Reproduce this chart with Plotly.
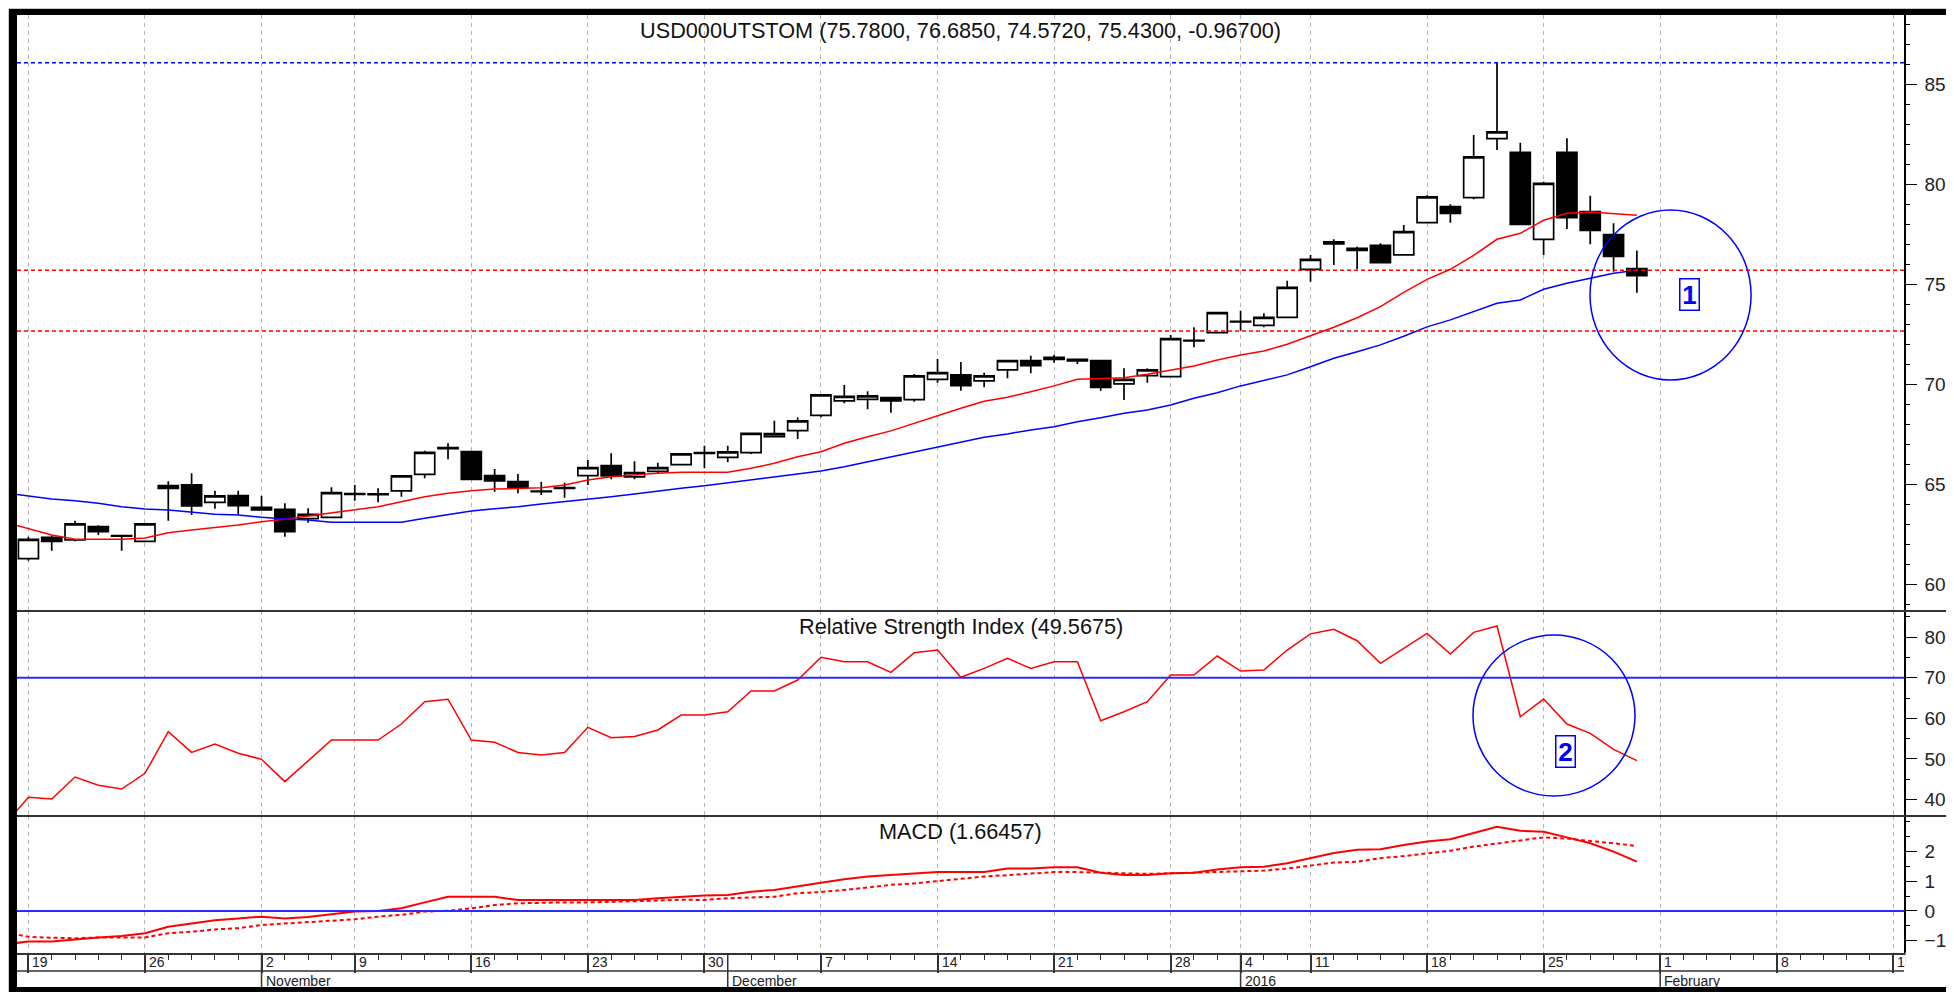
import plotly.graph_objects as go

# ---------------- data ----------------
# trading-day index: 0 = 19 Oct 2015 ... 69 = 29 Jan 2016 (exchange holidays skipped)
day_idx = list(range(70))
opens = [61.28, 62.35, 62.22, 62.88, 62.41, 62.15, 64.80, 64.97, 64.10, 64.43,
         63.85, 63.75, 63.28, 63.35, 64.49, 64.48, 64.67, 65.50, 66.84, 66.63,
         65.43, 65.13, 64.66, 64.80, 65.43, 65.93, 65.37, 65.65, 65.98, 66.54,
         66.35, 66.58, 67.38, 67.68, 68.45, 69.17, 69.25, 69.33, 69.23, 70.25,
         70.47, 70.17, 70.72, 71.18, 71.35, 71.25, 71.18, 70.02, 70.43, 70.38,
         72.17, 72.58, 73.12, 72.95, 73.35, 75.75, 77.12, 76.80, 76.95, 76.47,
         78.08, 78.88, 79.33, 82.28, 81.60, 77.25, 81.60, 78.63, 77.48, 75.78]
highs = [62.38, 62.43, 63.18, 62.95, 62.45, 63.05, 65.15, 65.55, 64.68, 64.68,
         64.43, 64.05, 63.80, 64.85, 64.97, 64.80, 65.45, 66.68, 67.05, 66.68,
         65.77, 65.52, 65.13, 65.08, 66.22, 66.55, 66.15, 66.08, 66.53, 66.93,
         66.93, 67.55, 68.18, 68.35, 69.47, 69.97, 69.65, 69.33, 70.52, 71.27,
         71.12, 70.58, 71.18, 71.43, 71.47, 71.25, 71.18, 70.80, 70.80, 72.47,
         72.85, 73.58, 73.68, 73.55, 75.18, 76.47, 77.25, 76.88, 77.05, 77.97,
         79.45, 79.00, 82.47, 86.08, 82.08, 80.13, 82.30, 79.43, 78.05, 76.685]
lows = [61.18, 61.68, 62.15, 62.47, 61.68, 62.13, 63.18, 63.47, 63.78, 63.50,
        63.70, 62.38, 63.08, 63.33, 64.18, 64.10, 64.38, 65.30, 66.25, 65.23,
        64.63, 64.55, 64.47, 64.33, 64.97, 65.25, 65.25, 65.52, 65.97, 65.80,
        66.10, 66.52, 67.38, 67.27, 68.35, 69.05, 68.75, 68.58, 69.13, 70.08,
        69.68, 69.85, 70.30, 70.55, 71.08, 71.02, 69.67, 69.22, 70.08, 70.38,
        71.85, 72.55, 72.68, 72.85, 73.35, 75.13, 75.97, 75.75, 76.08, 76.47,
        78.08, 78.08, 79.25, 81.72, 77.95, 76.47, 77.77, 77.00, 75.63, 74.572]
closes = [62.25, 62.15, 63.02, 62.63, 62.43, 63.02, 64.93, 63.92, 64.42, 63.93,
          63.72, 62.63, 63.50, 64.58, 64.53, 64.52, 65.42, 66.60, 66.78, 65.25,
          65.17, 64.85, 64.63, 64.83, 65.83, 65.42, 65.58, 65.83, 66.52, 66.59,
          66.62, 67.55, 67.53, 68.17, 69.47, 69.40, 69.42, 69.17, 70.42, 70.58,
          69.93, 70.42, 71.18, 70.93, 71.25, 71.17, 69.85, 70.25, 70.72, 72.28,
          72.20, 73.58, 73.15, 73.35, 74.85, 76.25, 77.02, 76.70, 76.08, 77.63,
          79.37, 78.55, 81.37, 82.62, 78.00, 80.05, 78.33, 77.70, 76.397, 75.43]

# indicator series start one session before the first visible candle
line_idx = list(range(-1, 70))
ma_fast = [63.10, 62.80, 62.47, 62.25, 62.25, 62.25, 62.31, 62.58, 62.72, 62.83,
           62.97, 63.13, 63.25, 63.42, 63.58, 63.72, 63.88, 64.13, 64.38, 64.55,
           64.68, 64.76, 64.80, 64.83, 64.97, 65.22, 65.38, 65.47, 65.55, 65.60,
           65.60, 65.60, 65.80, 66.05, 66.38, 66.63, 67.05, 67.38, 67.67, 68.05,
           68.43, 68.80, 69.15, 69.35, 69.63, 69.92, 70.25, 70.28, 70.33, 70.50,
           70.72, 70.92, 71.22, 71.47, 71.67, 72.00, 72.43, 72.85, 73.33, 73.88,
           74.60, 75.25, 75.75, 76.45, 77.25, 77.55, 78.20, 78.55, 78.62, 78.55,
           78.45]
ma_slow = [64.57, 64.42, 64.27, 64.18, 64.05, 63.88, 63.77, 63.72, 63.60, 63.50,
           63.47, 63.35, 63.27, 63.22, 63.10, 63.10, 63.10, 63.10, 63.30, 63.50,
           63.67, 63.78, 63.88, 64.02, 64.13, 64.25, 64.38, 64.52, 64.67, 64.80,
           64.93, 65.08, 65.22, 65.35, 65.52, 65.67, 65.88, 66.13, 66.38, 66.63,
           66.88, 67.13, 67.35, 67.52, 67.72, 67.88, 68.13, 68.33, 68.55, 68.72,
           68.97, 69.30, 69.58, 69.92, 70.18, 70.47, 70.88, 71.30, 71.63, 71.97,
           72.40, 72.87, 73.22, 73.63, 74.05, 74.22, 74.75, 75.05, 75.30, 75.55,
           75.70]
rsi = [34.0, 40.54, 40.12, 45.54, 43.5, 42.59, 46.45, 56.7, 51.6, 53.67,
       51.38, 49.9, 44.4, 49.56, 54.65, 54.65, 54.65, 58.6, 64.1, 64.7,
       54.65, 54.08, 51.6, 50.96, 51.6, 57.78, 55.22, 55.5, 57.12, 60.8,
       60.8, 61.63, 66.72, 66.72, 69.43, 75.02, 73.94, 73.94, 71.33, 76.16,
       76.82, 70.1, 72.3, 74.77, 72.3, 73.94, 73.94, 59.41, 61.63, 64.09,
       70.66, 70.66, 75.34, 71.65, 71.9, 76.82, 80.8, 81.92, 79.11, 73.55,
       77.24, 80.93, 75.84, 81.17, 82.73, 60.39, 64.75, 58.6, 56.3, 52.36,
       49.5675]
macd = [-1.12, -1.03, -1.03, -0.955, -0.89, -0.84, -0.75, -0.53, -0.42, -0.31,
        -0.25, -0.19, -0.25, -0.20, -0.11, -0.02, 0.0, 0.09, 0.29, 0.48,
        0.48, 0.48, 0.37, 0.37, 0.37, 0.37, 0.37, 0.37, 0.43, 0.48,
        0.52, 0.54, 0.65, 0.71, 0.82, 0.95, 1.07, 1.16, 1.21, 1.27,
        1.31, 1.31, 1.31, 1.43, 1.43, 1.47, 1.47, 1.29, 1.21, 1.21,
        1.27, 1.29, 1.40, 1.47, 1.49, 1.61, 1.78, 1.95, 2.06, 2.08,
        2.22, 2.34, 2.42, 2.62, 2.84, 2.70, 2.67, 2.48, 2.28, 2.00,
        1.66457]
macd_signal = [-0.71, -0.87, -0.90, -0.92, -0.89, -0.89, -0.89, -0.75, -0.70, -0.62,
               -0.58, -0.47, -0.42, -0.38, -0.33, -0.28, -0.19, -0.13, -0.02, 0.01,
               0.09, 0.20, 0.26, 0.28, 0.29, 0.29, 0.31, 0.31, 0.35, 0.38,
               0.37, 0.43, 0.46, 0.48, 0.60, 0.64, 0.71, 0.80, 0.88, 0.93,
               1.01, 1.09, 1.16, 1.21, 1.27, 1.31, 1.31, 1.29, 1.25, 1.25,
               1.27, 1.29, 1.33, 1.33, 1.36, 1.43, 1.53, 1.63, 1.66, 1.78,
               1.85, 1.94, 2.03, 2.17, 2.28, 2.37, 2.48, 2.44, 2.37, 2.28,
               2.19]

axis_days = list(range(0, 81))
week_starts = [0, 5, 10, 14, 19, 24, 29, 34, 39, 44, 49, 52, 55, 60, 65, 70, 75, 80]
week_labels = ["19", "26", "2", "9", "16", "23", "30", "7", "14", "21", "28", "4",
               "11", "18", "25", "1", "8", "15"]
month_starts = [10, 30, 52, 70]
month_labels = ["November", "December", "2016", "February"]

dotted_levels = [86.08]
dashed_levels = [75.70, 72.67]
rsi_level = 70
macd_level = 0

title_price = "USD000UTSTOM (75.7800, 76.6850, 74.5720, 75.4300, -0.96700)"
title_rsi = "Relative Strength Index (49.5675)"
title_macd = "MACD (1.66457)"

# ---------------- layout helpers ----------------
# page coordinates (the page body adds an 8px margin around the figure)
OFF = 8
PAGE_W, PAGE_H = 1954, 992
W, H = PAGE_W - OFF, PAGE_H - OFF
L, R, T, B = 17, 1904, 15, 953   # plot area in page pixels


def pxx(xp):
    return (xp - L) / (R - L)


def pxy(yp):
    return (B - yp) / (B - T)


FONT = "Liberation Sans, Arial, sans-serif"
RED, BLUE = "#ff0000", "#0000ff"
x_range = [-0.49, 80.46]

fig = go.Figure()
fig.add_trace(go.Candlestick(
    x=day_idx, open=opens, high=highs, low=lows, close=closes,
    increasing=dict(fillcolor="white", line=dict(color="black", width=1.7)),
    decreasing=dict(fillcolor="black", line=dict(color="black", width=1.7)),
    whiskerwidth=0, showlegend=False, hoverinfo="skip", xaxis="x", yaxis="y"))
fig.add_trace(go.Scatter(x=line_idx, y=ma_fast, mode="lines", line=dict(color=RED, width=1.5),
                         showlegend=False, hoverinfo="skip", xaxis="x", yaxis="y"))
fig.add_trace(go.Scatter(x=line_idx, y=ma_slow, mode="lines", line=dict(color=BLUE, width=1.5),
                         showlegend=False, hoverinfo="skip", xaxis="x", yaxis="y"))
fig.add_trace(go.Scatter(x=line_idx, y=rsi, mode="lines", line=dict(color=RED, width=1.5),
                         showlegend=False, hoverinfo="skip", xaxis="x2", yaxis="y2"))
fig.add_trace(go.Scatter(x=line_idx, y=macd, mode="lines", line=dict(color=RED, width=2),
                         showlegend=False, hoverinfo="skip", xaxis="x3", yaxis="y3"))
fig.add_trace(go.Scatter(x=line_idx, y=macd_signal, mode="lines",
                         line=dict(color=RED, width=2, dash="4px,3px"),
                         showlegend=False, hoverinfo="skip", xaxis="x3", yaxis="y3"))

price_dom = [pxy(611), 1]
rsi_dom = [pxy(816), pxy(611)]
macd_dom = [0, pxy(816)]

xgrid = dict(showgrid=True, gridcolor="#b5b5b5", griddash="4px,4px", gridwidth=1,
             tickmode="array", tickvals=week_starts, range=x_range, zeroline=False,
             showticklabels=False, fixedrange=True, automargin=False)
minor_days = [d for d in axis_days if d not in week_starts]

ycommon = dict(side="right", ticks="outside", ticklen=11, tickwidth=1.4, tickcolor="black",
               showline=True, linecolor="black", linewidth=1.5, showgrid=False, zeroline=False,
               tickfont=dict(size=19, color="#222", family=FONT), ticklabelstandoff=4,
               fixedrange=True, automargin=False)

fig.update_layout(
    width=W, height=H,
    margin=dict(l=L - OFF, r=PAGE_W - R, t=T - OFF, b=PAGE_H - B, pad=0),
    paper_bgcolor="white", plot_bgcolor="white", showlegend=False, hovermode=False,
    font=dict(family=FONT, color="#111"),
    boxgap=0.14, boxgroupgap=0,
    xaxis=dict(domain=[0, 1], anchor="y", ticks="", showline=False,
               rangeslider=dict(visible=False), **xgrid),
    xaxis2=dict(domain=[0, 1], anchor="y2", ticks="", showline=False, **xgrid),
    xaxis3=dict(domain=[0, 1], anchor="y3", ticks="outside", ticklen=18, tickwidth=1.5,
                tickcolor="#333", showline=True, linecolor="#333", linewidth=1.5,
                minor=dict(tickvals=minor_days, ticks="outside", ticklen=5, tickwidth=1.3,
                           tickcolor="#333", showgrid=False), **xgrid),
    yaxis=dict(domain=price_dom, anchor="x", range=[58.665, 88.465], tickmode="linear",
               tick0=60, dtick=5,
               minor=dict(dtick=1, ticks="outside", ticklen=4, tickwidth=1.2, tickcolor="black"),
               **ycommon),
    yaxis2=dict(domain=rsi_dom, anchor="x2", range=[35.94, 86.43], tickmode="linear",
                tick0=40, dtick=10,
                minor=dict(dtick=5, ticks="outside", ticklen=4, tickwidth=1.2, tickcolor="black"),
                **ycommon),
    yaxis3=dict(domain=macd_dom, anchor="x3", range=[-1.415, 3.20], tickmode="array",
                tickvals=[-1, 0, 1, 2],
                minor=dict(tickmode="linear", tick0=0, dtick=0.5, ticks="outside", ticklen=4,
                           tickwidth=1.2, tickcolor="black"),
                **ycommon),
)

shapes = []
# window frame
shapes.append(dict(type="line", xref="paper", yref="paper", x0=pxx(8.5), x1=pxx(1954),
                   y0=pxy(8.5), y1=pxy(8.5), line=dict(color="#c8c8c8", width=1)))
shapes.append(dict(type="line", xref="paper", yref="paper", x0=pxx(8.5), x1=pxx(8.5),
                   y0=pxy(8.5), y1=pxy(992), line=dict(color="#c8c8c8", width=1)))
for (x0, x1, y0, y1) in [(9, 1954, 9, 15), (9, 17, 9, 992), (9, 1954, 987, 992)]:
    shapes.append(dict(type="rect", xref="paper", yref="paper", x0=pxx(x0), x1=pxx(x1),
                       y0=pxy(y1), y1=pxy(y0), fillcolor="black", line=dict(width=0)))
# panel separators
for yy in (611, 816):
    shapes.append(dict(type="line", xref="paper", yref="paper", x0=pxx(17), x1=pxx(1954),
                       y0=pxy(yy), y1=pxy(yy), line=dict(color="#333", width=2)))
# date band divider and month boundaries
shapes.append(dict(type="line", xref="paper", yref="paper", x0=0, x1=1,
                   y0=pxy(971), y1=pxy(971), line=dict(color="#333", width=1.5)))
for ms in month_starts:
    shapes.append(dict(type="line", xref="x3", yref="paper", x0=ms, x1=ms,
                       y0=pxy(953), y1=pxy(987), line=dict(color="#333", width=1.5)))
# horizontal levels
for lv in dotted_levels:
    shapes.append(dict(type="line", xref="x domain", yref="y", x0=0, x1=1, y0=lv, y1=lv,
                       line=dict(color=BLUE, width=1.5, dash="4px,3px")))
for lv in dashed_levels:
    shapes.append(dict(type="line", xref="x domain", yref="y", x0=0, x1=1, y0=lv, y1=lv,
                       line=dict(color=RED, width=1.5, dash="4px,3px")))
shapes.append(dict(type="line", xref="x2 domain", yref="y2", x0=0, x1=1, y0=rsi_level,
                   y1=rsi_level, line=dict(color="#2b2bff", width=2)))
shapes.append(dict(type="line", xref="x3 domain", yref="y3", x0=0, x1=1, y0=macd_level,
                   y1=macd_level, line=dict(color="#2b2bff", width=2)))
# highlight ellipses
shapes.append(dict(type="circle", xref="x", yref="y", x0=66.99, x1=73.90, y0=70.215, y1=78.715,
                   line=dict(color=BLUE, width=1.5)))
shapes.append(dict(type="circle", xref="x2", yref="y2", x0=61.97, x1=68.92, y0=40.86, y1=80.52,
                   line=dict(color=BLUE, width=1.5)))
fig.update_layout(shapes=shapes)

ann = []
for txt, yy in [(title_price, 30.7), (title_rsi, 626.5), (title_macd, 831.7)]:
    ann.append(dict(text=txt, xref="paper", yref="paper", x=0.5, y=pxy(yy), showarrow=False,
                    xanchor="center", yanchor="middle", font=dict(size=21.7, color="#111", family=FONT)))
for d, lab in zip(week_starts, week_labels):
    ann.append(dict(text=lab, xref="x3", yref="paper", x=d, y=pxy(962), xanchor="left",
                    yanchor="middle", xshift=2, showarrow=False,
                    font=dict(size=14, color="#222", family=FONT)))
for d, lab in zip(month_starts, month_labels):
    ann.append(dict(text=lab, xref="x3", yref="paper", x=d, y=pxy(980.5), xanchor="left",
                    yanchor="middle", xshift=2, showarrow=False,
                    font=dict(size=14, color="#222", family=FONT)))
# blank out the date band beyond the right axis (last label is cut off there)
ann.append(dict(text=" ", xref="paper", yref="paper", x=pxx(1905), y=pxy(969.5), xanchor="left",
                yanchor="middle", showarrow=False, width=46, height=31, bgcolor="white",
                font=dict(size=10)))
ann.append(dict(text="<b>1</b>", xref="x", yref="y", x=71.24, y=74.47, showarrow=False,
                font=dict(size=26, color=BLUE, family=FONT), bordercolor=BLUE, borderwidth=1.5,
                borderpad=1, bgcolor="white", width=16, height=28))
ann.append(dict(text="<b>2</b>", xref="x2", yref="y2", x=65.94, y=51.82, showarrow=False,
                font=dict(size=26, color=BLUE, family=FONT), bordercolor=BLUE, borderwidth=1.5,
                borderpad=1, bgcolor="white", width=16, height=28))
fig.update_layout(annotations=ann)

fig.write_html("out.html")
